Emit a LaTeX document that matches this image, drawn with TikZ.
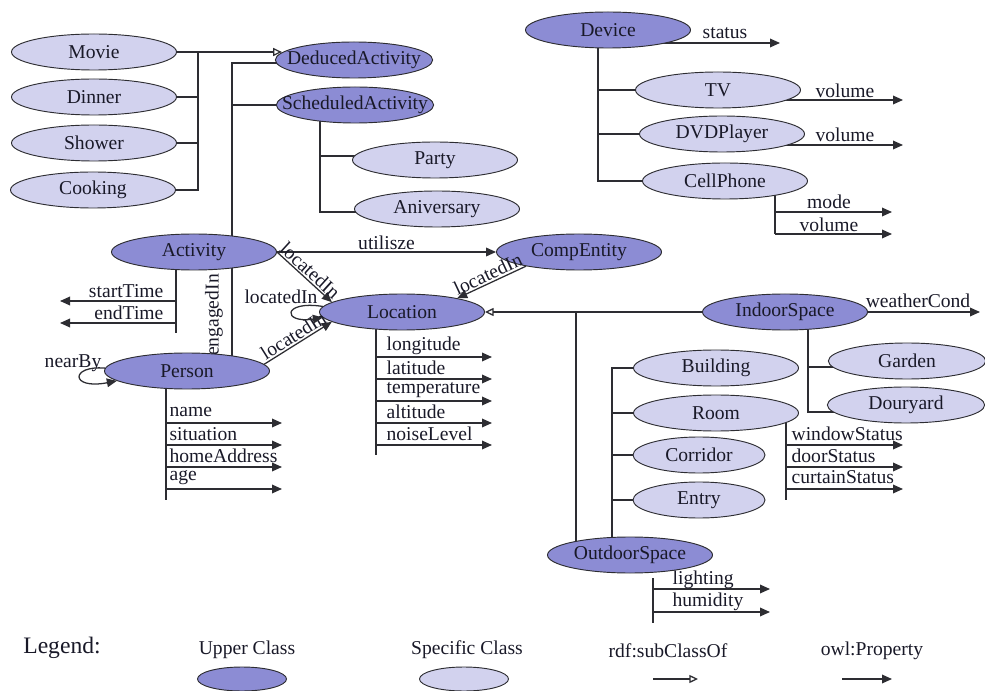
\documentclass[tikz,border=0pt]{standalone}
\usepackage{fontspec}
\setmainfont{Liberation Serif}
\usetikzlibrary{shapes.geometric,arrows.meta,calc}
\pgfdeclarelayer{background}
\pgfsetlayers{background,main}
\definecolor{upperfill}{RGB}{140,140,212}
\definecolor{specfill}{RGB}{210,210,238}
\definecolor{edgecol}{RGB}{45,45,50}
\definecolor{inkcol}{RGB}{25,25,40}
% class names may overflow their ellipse, so they are set in a zero-width box
\newcommand{\cname}[1]{\makebox[0pt]{#1}}

\tikzset{
  cls/.style={ellipse, draw=edgecol, line width=0.7pt, inner sep=0pt,
    minimum width=123.75pt, minimum height=27pt, text=inkcol,
    font=\fontsize{14.7}{17}\selectfont},
  upper/.style={cls, fill=upperfill},
  specific/.style={cls, fill=specfill},
  narrow/.style={minimum width=99pt},
  link/.style={draw=edgecol, line width=0.95pt},
  prop/.style={link, -{Triangle[length=7.5pt,width=6.5pt]}},
  sub/.style={link, -{Triangle[open,length=6.5pt,width=6pt]}},
  lbl/.style={text=inkcol, font=\fontsize{14.7}{17}\selectfont, inner sep=1pt},
}

\begin{document}
\begin{tikzpicture}[x=0.75pt,y=-0.75pt]
\useasboundingbox (0,0) rectangle (985,691);

% ---- classes ----
\node[specific] (movie)   at (94,52)  {\cname{Movie}};
\node[specific] (dinner)  at (94,97)  {\cname{Dinner}};
\node[specific] (shower)  at (94,143) {\cname{Shower}};
\node[specific] (cooking) at (93,190) {\cname{Cooking}};
\node[upper, minimum width=118pt] (deduced)   at (354,60)  {\cname{DeducedActivity}};
\node[upper, minimum width=118pt] (scheduled) at (355,105) {\cname{ScheduledActivity}};
\node[specific] (party)      at (435,160) {\cname{Party}};
\node[specific] (aniversary) at (437,209) {\cname{Aniversary}};
\node[upper] (activity)   at (194,252) {\cname{Activity}};
\node[upper] (compentity) at (579,252) {\cname{CompEntity}};
\node[upper] (location)   at (402,312) {\cname{Location}};
\node[upper] (person)     at (187,371) {\cname{Person}};
\node[upper] (device)     at (608,30)  {\cname{Device}};
\node[specific] (tv)        at (718,90)  {\cname{TV}};
\node[specific] (dvd)       at (722,134) {\cname{DVDPlayer}};
\node[specific] (cellphone) at (725,181) {\cname{CellPhone}};
\node[upper] (indoor) at (785,312) {\cname{IndoorSpace}};
\node[specific, minimum width=118pt] (garden)   at (907,361) {\cname{Garden}};
\node[specific, minimum width=118pt] (douryard) at (906,405) {\cname{Douryard}};
\node[specific] (building) at (716,368) {\cname{Building}};
\node[specific] (room)     at (716,413) {\cname{Room}};
\node[specific, narrow] (corridor) at (699,455) {\cname{Corridor}};
\node[specific, narrow] (entry)    at (699,500) {\cname{Entry}};
\node[upper] (outdoor) at (630,555) {\cname{OutdoorSpace}};

% ---- hierarchy lines and datatype properties (behind the classes) ----
\begin{pgfonlayer}{background}
  % activities deduced from sensing
  \coordinate (mvTrunk) at (198,52);
  \draw[sub] (movie.east) -- ($(deduced.west |- movie.east)+(7,0)$);
  \draw[link] (mvTrunk) |- (cooking.east);
  \draw[link] (dinner.east) -- (dinner.east -| mvTrunk);
  \draw[link] (shower.east) -- (shower.east -| mvTrunk);

  % activity kinds
  \coordinate (actTrunk) at (232,63);
  \draw[link] (activity.center -| actTrunk) -- (actTrunk) -- (deduced.center |- actTrunk);
  \draw[link] (scheduled.center) -- (scheduled.center -| actTrunk);
  \draw[link] (activity.center -| actTrunk) -- (person.center -| actTrunk);
  \node[lbl, rotate=90] (lEngaged) at (214,315) {engagedIn};

  % scheduled activities
  \coordinate (schTop) at (320,105);
  \coordinate (schP) at (320,156);
  \coordinate (schA) at (320,212);
  \draw[link] (schTop) -- (schA) -- (aniversary.center |- schA);
  \draw[link] (schP) -- (party.center |- schP);

  % devices
  \coordinate (devTrunk) at (598,30);
  \draw[link] (devTrunk) |- (cellphone.center);
  \draw[link] (tv.center) -- (tv.center -| devTrunk);
  \draw[link] (dvd.center) -- (dvd.center -| devTrunk);

  \coordinate (statusEnd) at (780,43);
  \draw[prop] (device.center |- statusEnd) -- (statusEnd);
  \node[lbl] (lStatus) at (725,33) {status};
  \coordinate (tvEnd) at (903,100);
  \draw[prop] (tv.center |- tvEnd) -- (tvEnd);
  \node[lbl] (lTvVol) at (845,91) {volume};
  \coordinate (dvdEnd) at (903,145);
  \draw[prop] (dvd.center |- dvdEnd) -- (dvdEnd);
  \node[lbl] (lDvdVol) at (845,135) {volume};
  \coordinate (cellBot) at (775,234);
  \coordinate (modeEnd) at (892,212);
  \coordinate (cvolEnd) at (892,234);
  \draw[link] (cellphone.center -| cellBot) -- (cellBot);
  \draw[prop] (modeEnd -| cellBot) -- (modeEnd);
  \draw[prop] (cellBot) -- (cvolEnd);
  \node[lbl] (lMode) at (829,202) {mode};
  \node[lbl] (lCellVol) at (829,225) {volume};

  % activity times
  \coordinate (timeBot) at (176,333);
  \coordinate (startEnd) at (60,301);
  \coordinate (endEnd) at (60,323);
  \draw[link] (activity.center -| timeBot) -- (timeBot);
  \draw[prop] (startEnd -| timeBot) -- (startEnd);
  \draw[prop] (endEnd -| timeBot) -- (endEnd);
  \node[lbl, anchor=east] (lStart) at (165,291) {startTime};
  \node[lbl, anchor=east] (lEnd) at (165,313) {endTime};

  % person attributes
  \coordinate (pBot) at (166,500);
  \coordinate (pA) at (282,423);
  \coordinate (pB) at (282,445);
  \coordinate (pC) at (282,467);
  \coordinate (pD) at (282,489);
  \draw[link] (person.center -| pBot) -- (pBot);
  \foreach \c in {pA,pB,pC,pD} \draw[prop] (\c -| pBot) -- (\c);
  \node[lbl, anchor=west] (lName) at (168,412) {name};
  \node[lbl, anchor=west] (lSit)  at (168,434) {situation};
  \node[lbl, anchor=west] (lHome) at (168,456) {homeAddress};
  \node[lbl, anchor=west] (lAge)  at (168,478) {age};

  % location attributes
  \coordinate (lBot) at (376,455);
  \coordinate (lA) at (492,357);
  \coordinate (lB) at (492,379);
  \coordinate (lC) at (492,401);
  \coordinate (lD) at (492,423);
  \coordinate (lE) at (492,445);
  \draw[link] (location.center -| lBot) -- (lBot);
  \foreach \c in {lA,lB,lC,lD,lE} \draw[prop] (\c -| lBot) -- (\c);
  \node[lbl, anchor=west] (lLong)  at (385,346) {longitude};
  \node[lbl, anchor=west] (lLat)   at (385,368) {latitude};
  \node[lbl, anchor=west] (lTemp)  at (385,390) {temperature};
  \node[lbl, anchor=west] (lAlt)   at (385,412) {altitude};
  \node[lbl, anchor=west] (lNoise) at (385,434) {noiseLevel};

  % spaces
  \coordinate (locTrunk) at (576,312);
  \draw[sub] (indoor.center) -- (location.east);
  \draw[link] (locTrunk) -- (outdoor.center -| locTrunk);
  \coordinate (outTrunk) at (612,368);
  \draw[link] (outdoor.center -| outTrunk) -- (outTrunk) -- (building.center);
  \draw[link] (room.center) -- (room.center -| outTrunk);
  \draw[link] (corridor.center) -- (corridor.center -| outTrunk);
  \draw[link] (entry.center) -- (entry.center -| outTrunk);

  \coordinate (inTrunk) at (808,312);
  \coordinate (inG) at (808,367);
  \coordinate (inD) at (808,412);
  \draw[link] (inTrunk) -- (inD) -- (douryard.center |- inD);
  \draw[link] (inG) -- (garden.center |- inG);

  \coordinate (wEnd) at (980,312);
  \draw[prop] (indoor.center) -- (wEnd);
  \node[lbl] (lWeather) at (918,301) {weatherCond};

  % room attributes
  \coordinate (rBot) at (786,500);
  \coordinate (rA) at (903,445);
  \coordinate (rB) at (903,467);
  \coordinate (rC) at (903,489);
  \draw[link] (room.center -| rBot) -- (rBot);
  \foreach \c in {rA,rB,rC} \draw[prop] (\c -| rBot) -- (\c);
  \node[lbl, anchor=west] (lWin)  at (790,434) {windowStatus};
  \node[lbl, anchor=west] (lDoor) at (790,456) {doorStatus};
  \node[lbl, anchor=west] (lCurt) at (790,477) {curtainStatus};

  % outdoor attributes
  \coordinate (oTop) at (653,578);
  \coordinate (oBot) at (653,623);
  \coordinate (oA) at (770,589);
  \coordinate (oB) at (770,612);
  \draw[link] (oTop) -- (oBot);
  \draw[prop] (oA -| oTop) -- (oA);
  \draw[prop] (oB -| oTop) -- (oB);
  \node[lbl, anchor=west] (lLight) at (671,580) {lighting};
  \node[lbl, anchor=west] (lHum)   at (671,602) {humidity};
\end{pgfonlayer}

% ---- object properties ----
\draw[prop] (activity.east) -- (compentity.west)
  node[lbl, midway, above] (lUtil) {utilisze};
\draw[prop] (activity.east) -- (location.172)
  node[lbl, midway, sloped, above] (lLocA) {locatedIn};
\draw[prop] (person.5) -- (location.188)
  node[lbl, midway, sloped, above] (lLocP) {locatedIn};
\draw[prop] (compentity.195) -- (location.14)
  node[lbl, midway, sloped, above] (lLocC) {locatedIn};
\draw[prop] (location.176) .. controls (282,300) and (282,324) .. (location.184);
\node[lbl] (lLocSelf) at (281,297) {locatedIn};
\draw[prop] (person.178) .. controls (70,365) and (70,390) .. (person.188);
\node[lbl] (lNear) at (73,363) {nearBy};

% ---- legend ----
\node[lbl, font=\fontsize{17.7}{20}\selectfont] (legTitle) at (62,648) {Legend:};
\node[lbl] (legUpper) at (247,650) {Upper Class};
\node[upper, minimum width=66.75pt, minimum height=18pt] (legUpperEll) at (242,679) {};
\node[lbl] (legSpec) at (467,650) {Specific Class};
\node[specific, minimum width=66.75pt, minimum height=18pt] (legSpecEll) at (464,679) {};
\node[lbl] (legSub) at (668,651) {rdf:subClassOf};
\coordinate (subA) at (653,679);
\coordinate (subB) at (698,679);
\draw[sub] (subA) -- (subB);
\node[lbl] (legProp) at (872,651) {owl:Property};
\coordinate (propA) at (842,679);
\coordinate (propB) at (892,679);
\draw[prop] (propA) -- (propB);
\end{tikzpicture}
\end{document}
